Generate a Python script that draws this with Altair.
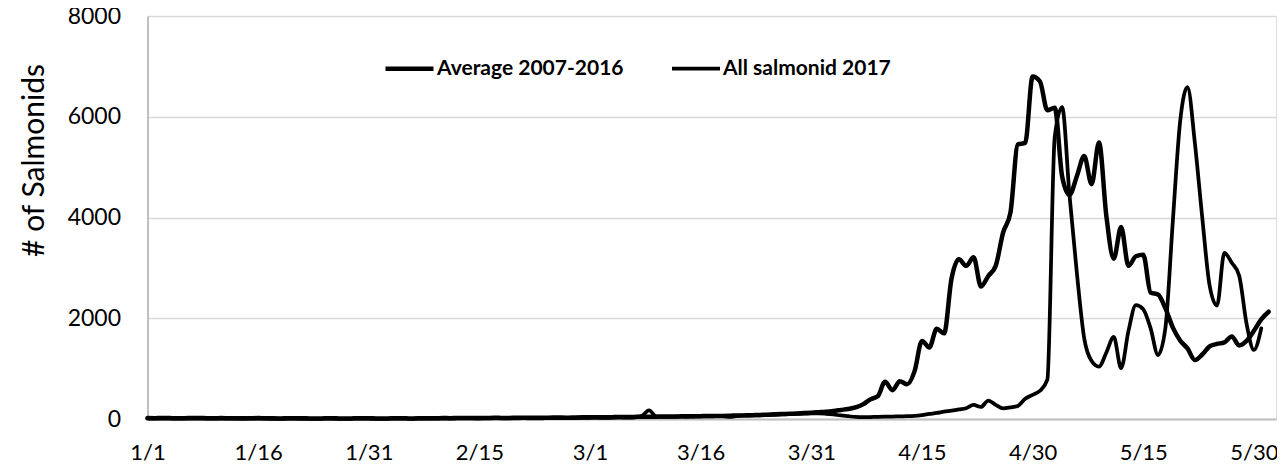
import altair as alt
import pandas as pd

series_names = ["Average 2007-2016", "All salmonid 2017"]

tick_days = [0, 15, 30, 45, 60, 75, 90, 105, 120, 135, 150]
tick_labels = ["1/1", "1/16", "1/31", "2/15", "3/1", "3/16", "3/31",
               "4/15", "4/30", "5/15", "5/30"]

y_ticks = [0, 2000, 4000, 6000, 8000]

# Average 2007-2016, one value per day starting 1/1
avg = [
    18, 16, 20, 18, 15, 17, 19, 20, 17, 15,
    18, 16, 15, 13, 16, 18, 15, 13, 12, 15,
    17, 14, 12, 11, 13, 15, 12, 11, 13, 15,
    14, 12, 11, 13, 15, 13, 12, 14, 16, 15,
    18, 17, 19, 21, 19, 18, 21, 24, 22, 21,
    25, 27, 24, 23, 26, 29, 28, 27, 30, 33,
    35, 37, 34, 37, 40, 39, 42, 45, 44, 47,
    50, 49, 52, 55, 54, 57, 60, 59, 62, 66,
    70, 72, 76, 80, 86, 92, 98, 104, 110, 118,
    126, 135, 145, 160, 180, 200, 230, 290, 390, 450,
    740, 570, 750, 690, 950, 1550, 1420, 1790, 1700, 2780,
    3170, 3040, 3210, 2630, 2840, 3040, 3700, 4100, 5450, 5480,
    6800, 6700, 6130, 6180, 4820, 4450, 4820, 5220, 4660, 5490,
    4030, 3180, 3810, 3040, 3230, 3260, 2510, 2470, 2200, 1820,
    1560, 1400, 1170, 1280, 1440, 1490, 1520, 1640, 1460, 1550,
    1750, 1980, 2130,
]

# All salmonid 2017, one value per day starting 1/1
s2017 = [
    8, 6, 9, 7, 5, 6, 8, 9, 6, 5,
    7, 6, 5, 4, 6, 8, 5, 4, 3, 5,
    6, 4, 3, 3, 5, 6, 4, 3, 5, 6,
    5, 4, 3, 5, 6, 5, 4, 6, 8, 7,
    9, 8, 10, 12, 10, 9, 12, 14, 12, 11,
    14, 16, 13, 12, 15, 18, 17, 16, 19, 22,
    24, 26, 22, 26, 30, 28, 32, 60, 170, 45,
    40, 42, 46, 44, 48, 52, 50, 55, 58, 40,
    62, 66, 70, 74, 78, 84, 90, 96, 100, 106,
    110, 112, 104, 90, 70, 55, 40, 35, 38, 42,
    45, 48, 52, 55, 62, 78, 100, 120, 145, 165,
    190, 215, 280, 240, 365, 280, 210, 230, 260, 400,
    480, 560, 780, 5600, 6190, 4450, 2900, 1600, 1150, 1040,
    1320, 1630, 1010, 1750, 2260, 2180, 1800, 1270, 1800, 3900,
    5900, 6590, 5480, 4000, 2650, 2250, 3300, 3100, 2850, 1900,
    1370, 1800,
]

rows = [{"day": i, "count": v, "series": series_names[0]} for i, v in enumerate(avg)]
rows += [{"day": i, "count": v, "series": series_names[1]} for i, v in enumerate(s2017)]
df = pd.DataFrame(rows)

label_expr = "[" + ",".join("'" + t + "'" for t in tick_labels) + "][round(datum.value/15)]"

chart = alt.Chart(df).mark_line(
    interpolate="monotone", strokeJoin="round", strokeCap="round", color="black"
).encode(
    x=alt.X(
        "day:Q",
        scale=alt.Scale(domain=[0, 153], nice=False, zero=False),
        axis=alt.Axis(
            values=tick_days, labelExpr=label_expr, title=None, grid=False,
            ticks=False, labelFlush=False, labelOverlap=False, labelPadding=23,
            labelFontSize=22, labelFont="Lato", labelColor="#000000",
            domainColor="#bfbfbf", domainWidth=2,
        ),
    ),
    y=alt.Y(
        "count:Q",
        scale=alt.Scale(domain=[0, 8000], nice=False),
        axis=alt.Axis(
            values=y_ticks, format="d", title="# of Salmonids",
            titleFont="Lato", titleFontSize=30, titleFontWeight="normal",
            titleColor="#000000", titleX=-113.5, titleY=144,
            titleAlign="center", titleBaseline="middle",
            grid=True, gridColor="#d9d9d9", gridWidth=1.5, ticks=False,
            labelPadding=27, labelFontSize=23, labelFont="Lato",
            labelColor="#000000", domainColor="#bfbfbf", domainWidth=2,
        ),
    ),
    strokeWidth=alt.StrokeWidth(
        "series:N",
        scale=alt.Scale(domain=series_names, range=[4.5, 3.75]),
        legend=alt.Legend(
            title=None, orient="none", legendX=235.5, legendY=26,
            direction="horizontal", symbolType="stroke", symbolSize=2304,
            symbolStrokeColor="black", labelFont="Lato", labelFontSize=21,
            labelFontWeight="bold", labelColor="#000000", labelOffset=1,
            columnPadding=40, padding=0, labelLimit=400,
        ),
    ),
).properties(
    width=1128.5,
    height=403,
    padding={"left": 139.5, "top": 8, "right": 1, "bottom": 45},
    autosize=alt.AutoSizeParams(type="none"),
).configure_view(
    stroke="#595959", strokeWidth=1.5
).configure(background="white")

chart.save("out.html", embed_options={"renderer": "svg", "actions": False})
